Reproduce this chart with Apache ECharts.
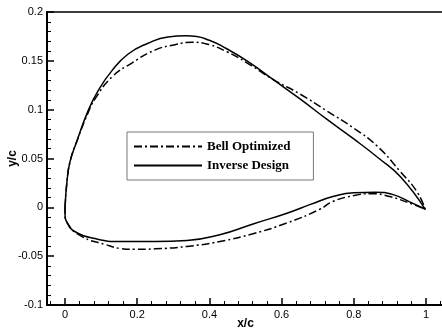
<!DOCTYPE html>
<html>
<head>
<meta charset="utf-8">
<script src="https://cdn.jsdelivr.net/npm/echarts@6/dist/echarts.min.js"></script>
<style>html,body{margin:0;padding:0;background:#fff}#c{width:442px;height:332px}</style>
</head>
<body>
<div id="c"></div>
<script>
// x/c, y/c pairs going LE -> upper surface -> TE -> lower surface -> LE
const inverseX = [0, 0.0055, 0.014, 0.033, 0.064, 0.091, 0.130, 0.175, 0.230, 0.285, 0.335, 0.365, 0.400, 0.430, 0.504, 0.576, 0.651, 0.726, 0.800, 0.870, 0.930, 0.998,
  0.964, 0.909, 0.860, 0.800, 0.742, 0.680, 0.615, 0.521, 0.429, 0.338, 0.250, 0.152, 0.083, 0.028, 0.006, 0, 0];
const inverseY = [0, 0.027, 0.047, 0.068, 0.099, 0.119, 0.140, 0.157, 0.168, 0.1745, 0.1757, 0.175, 0.171, 0.166, 0.150, 0.131, 0.111, 0.090, 0.070, 0.050, 0.031, -0.002,
  0.004, 0.013, 0.0155, 0.015, 0.011, 0.003, -0.006, -0.017, -0.028, -0.034, -0.035, -0.035, -0.032, -0.025, -0.016, -0.006, 0];
const bellX = [0, 0.0055, 0.014, 0.033, 0.064, 0.083, 0.130, 0.186, 0.249, 0.305, 0.352, 0.400, 0.450, 0.504, 0.576, 0.651, 0.726, 0.800, 0.864, 0.928, 0.975, 0.998,
  0.964, 0.900, 0.850, 0.800, 0.742, 0.706, 0.615, 0.521, 0.429, 0.338, 0.250, 0.194, 0.152, 0.111, 0.047, 0.008, 0, 0];
const bellY = [0, 0.027, 0.047, 0.068, 0.097, 0.111, 0.1335, 0.148, 0.161, 0.1665, 0.169, 0.1665, 0.159, 0.148, 0.131, 0.116, 0.0986, 0.081, 0.063, 0.037, 0.016, -0.002,
  0.003, 0.011, 0.014, 0.012, 0.006, -0.002, -0.016, -0.027, -0.035, -0.040, -0.0425, -0.043, -0.042, -0.038, -0.030, -0.017, -0.006, 0];
const xTickValues = [0, 0.2, 0.4, 0.6, 0.8, 1];
const xMinorValues = [-0.04, 0.04, 0.08, 0.12, 0.16, 0.24, 0.28, 0.32, 0.36, 0.44, 0.48, 0.52, 0.56, 0.64, 0.68, 0.72, 0.76, 0.84, 0.88, 0.92, 0.96, 1.04];
const seriesNames = ['Bell Optimized', 'Inverse Design'];

const zip = (xs, ys) => xs.map((x, i) => [x, ys[i]]);
const chart = echarts.init(document.getElementById('c'), null, {renderer: 'canvas'});
const axisFont = {fontFamily: 'Liberation Sans', fontSize: 11, color: '#000'};
chart.setOption({
  animation: false,
  backgroundColor: '#fff',
  grid: {left: 47, top: 12, width: 397, bottom: 27, containLabel: false, outerBoundsMode: 'none',
    show: true, borderColor: '#000', borderWidth: 1.5, backgroundColor: 'transparent'},
  legend: {
    data: seriesNames, orient: 'vertical', left: 127, top: 132,
    itemWidth: 68, itemHeight: 14, itemGap: 6,
    padding: [8, 23, 8, 6], borderColor: '#777', borderWidth: 1, backgroundColor: '#fff',
    itemStyle: {opacity: 0},
    textStyle: {fontFamily: 'Liberation Serif', fontWeight: 'bold', fontSize: 13, color: '#000'}
  },
  xAxis: [{
    type: 'value', min: -0.05, max: 1.05,
    name: 'x/c', nameLocation: 'middle', nameGap: 13, nameMoveOverlap: false,
    nameTextStyle: {fontFamily: 'Liberation Sans', fontWeight: 'bold', fontSize: 12, color: '#000'},
    axisLine: {onZero: false, lineStyle: {color: '#000', width: 2}},
    axisTick: {inside: true, length: 7, customValues: xTickValues, lineStyle: {color: '#000', width: 1.5}},
    axisLabel: {customValues: xTickValues, margin: 4, ...axisFont},
    splitLine: {show: false}
  }, {
    type: 'value', min: -0.05, max: 1.05, position: 'bottom',
    axisLine: {show: false, onZero: false},
    axisTick: {inside: true, length: 4, customValues: xMinorValues, lineStyle: {color: '#000', width: 1}},
    axisLabel: {show: false},
    splitLine: {show: false}
  }],
  yAxis: {
    type: 'value', min: -0.1, max: 0.2, interval: 0.05,
    name: 'y/c', nameLocation: 'middle', nameGap: 28, nameRotate: 90, nameMoveOverlap: false,
    nameTextStyle: {fontFamily: 'Liberation Sans', fontWeight: 'bold', fontSize: 12, color: '#000'},
    axisLine: {onZero: false, lineStyle: {color: '#000', width: 2}},
    axisTick: {inside: true, length: 7, lineStyle: {color: '#000', width: 1.5}},
    minorTick: {show: true, splitNumber: 5, length: 4, lineStyle: {color: '#000', width: 1}},
    axisLabel: {margin: 4, ...axisFont},
    splitLine: {show: false}
  },
  series: [{
    name: seriesNames[0], type: 'line', data: zip(bellX, bellY), showSymbol: false, symbol: 'none', smooth: 0.5,
    lineStyle: {color: '#000', width: 1.5, type: [8, 3, 2, 3]}, itemStyle: {color: '#000'}
  }, {
    name: seriesNames[1], type: 'line', data: zip(inverseX, inverseY), showSymbol: false, symbol: 'none', smooth: 0.5,
    lineStyle: {color: '#000', width: 1.5}, itemStyle: {color: '#000'}
  }]
});
</script>
</body>
</html>
